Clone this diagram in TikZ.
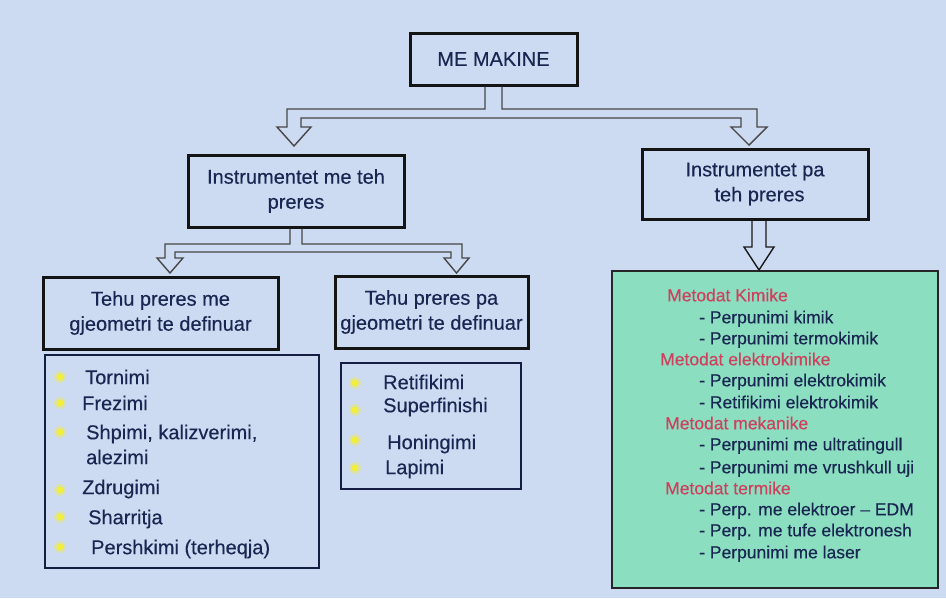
\documentclass[tikz,border=0pt]{standalone}
\usepackage{fontspec}
\setmainfont{Liberation Sans}[FakeBold=0.35]
\usetikzlibrary{calc}
\definecolor{bgc}{RGB}{205,219,242}
\definecolor{txt}{RGB}{26,38,82}
\definecolor{redh}{RGB}{205,65,95}
\definecolor{mint}{RGB}{140,222,192}
\definecolor{bul}{RGB}{242,238,60}
\tikzset{
  bigbox/.style={draw=black!92, line width=3pt, inner sep=0pt, align=center, text=txt,
    font=\fontsize{20}{25}\selectfont},
  listbox/.style={draw=txt!80!black, line width=1.4pt, inner sep=0pt},
  conn/.style={draw=black!72, line width=1.4pt, line join=miter},
  item/.style={anchor=base west, inner sep=0pt, text=txt, font=\fontsize{20}{24}\selectfont},
  gitem/.style={anchor=base west, inner sep=0pt, text=txt, font=\fontsize{17.5}{21}\selectfont},
  ghead/.style={anchor=base west, inner sep=0pt, text=redh, font=\fontsize{17.5}{21}\selectfont},
  bulletdot/.style={circle, fill=bul, inner sep=0pt, minimum size=7pt},
  glow/.style={circle, fill=bul, fill opacity=0.35, inner sep=0pt, minimum size=12pt}
}
\begin{document}
\begin{tikzpicture}[x=1pt,y=-1pt]
\fill[bgc] (0,0) rectangle (946,598);
\useasboundingbox (0,0) rectangle (946,598);

% boxes
\node[bigbox, minimum width=167pt, minimum height=52pt] (mm) at (493.5,59) {ME MAKINE};
\node[bigbox, minimum width=216pt, minimum height=72pt] (inst1) at (296,191) {Instrumentet me teh\\preres};
\node[bigbox, minimum width=226pt, minimum height=70pt] (inst2) at (755,184) {Instrumentet pa\\\hspace{9pt}teh preres};
\node[bigbox, minimum width=235pt, minimum height=72pt] (teh1) at (160.5,313) {Tehu preres me\\gjeometri te definuar};
\node[bigbox, minimum width=193pt, minimum height=72pt] (teh2) at (431.5,312) {Tehu preres pa\\gjeometri te definuar};
\node[listbox, minimum width=274pt, minimum height=213pt] (list1) at (182,461.5) {};
\node[listbox, minimum width=180pt, minimum height=126pt] (list2) at (431,426) {};
\node[draw=black!85, fill=mint, line width=1.2pt, inner sep=0pt, minimum width=326pt, minimum height=317pt] (green) at (775,429.5) {};

% connector from ME MAKINE
\draw[conn] ($(mm.south)+(-8.5,0)$) -- (485,109) -- (287,109) -- (287,127) -- (277,127)
  -- (294,146) -- (311,127) -- (301,127) -- (301,118) -- (741,118) -- (741,127) -- (731,127)
  -- (749,145) -- (767,127) -- (757,127) -- (757,109) -- (502,109) -- ($(mm.south)+(8.5,0)$);
% connector from Instrumentet me teh preres
\draw[conn] ($(inst1.south)+(-6,0)$) -- (290,244) -- (165,244) -- (165,258) -- (157,258)
  -- (170,273) -- (183,258) -- (175,258) -- (175,252) -- (451,252) -- (451,258) -- (444,258)
  -- (456.5,273) -- (469,258) -- (462,258) -- (462,244) -- (302,244) -- ($(inst1.south)+(6,0)$);
% connector from Instrumentet pa teh preres
\draw[conn, draw=black!90] ($(inst2.south)+(-3,0)$) -- (752,247) -- (744,247) -- (759,270)
  -- (774,247) -- (766,247) -- ($(inst2.south)+(11,0)$);

% left list
\foreach \n/\y in {1/377,2/403,3/432,4/490,5/517,6/547}{
  \node[glow] (g1\n) at (60,\y) {};
  \node[bulletdot] (b1\n) at (60,\y) {};
}
\node[item] (t1) at (85,384.2) {Tornimi};
\node[item] (t2) at (82,410.2) {Frezimi};
\node[item] (t3) at (86,439.2) {Shpimi, kalizverimi,};
\node[item] (t3b) at (86,464.2) {alezimi};
\node[item] (t4) at (82,494.2) {Zdrugimi};
\node[item] (t5) at (88,524.2) {Sharritja};
\node[item] (t6) at (91,554.2) {Pershkimi (terheqja)};

% middle list
\foreach \n/\y in {1/383,2/410,3/440,4/468}{
  \node[glow] (g2\n) at (355,\y) {};
  \node[bulletdot] (b2\n) at (355,\y) {};
}
\node[item] (m1) at (383,389.2) {Retifikimi};
\node[item] (m2) at (383,412.2) {Superfinishi};
\node[item] (m3) at (387,449.2) {Honingimi};
\node[item] (m4) at (385,474.2) {Lapimi};

% green box content
\node[ghead] (h1) at (667,301.3) {Metodat Kimike};
\node[gitem] (i1) at (699,323.3) {- Perpunimi kimik};
\node[gitem] (i2) at (699,344.3) {- Perpunimi termokimik};
\node[ghead] (h2) at (660,365.3) {Metodat elektrokimike};
\node[gitem] (i3) at (699,386.3) {- Perpunimi elektrokimik};
\node[gitem] (i4) at (699,408.3) {- Retifikimi elektrokimik};
\node[ghead] (h3) at (665,429.3) {Metodat mekanike};
\node[gitem] (i5) at (699,450.3) {- Perpunimi me ultratingull};
\node[gitem] (i6) at (699,473.3) {- Perpunimi me vrushkull uji};
\node[ghead] (h4) at (665,494.3) {Metodat termike};
\node[gitem] (i7) at (699,515.3) {- Perp. me elektroer – EDM};
\node[gitem] (i8) at (699,536.3) {- Perp. me tufe elektronesh};
\node[gitem] (i9) at (699,558.3) {- Perpunimi me laser};
\end{tikzpicture}
\end{document}
